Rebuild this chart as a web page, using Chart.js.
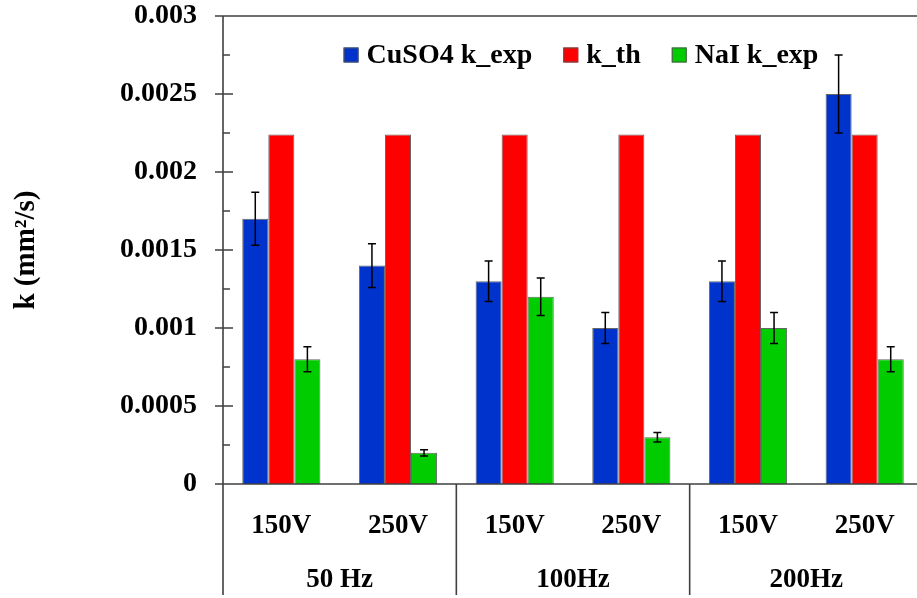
<!DOCTYPE html>
<html>
<head>
<meta charset="utf-8">
<script src="https://cdn.jsdelivr.net/npm/chart.js@4/dist/chart.umd.min.js"></script>
<style>
  html, body { margin: 0; padding: 0; background: #fff; overflow: hidden; }
  #wrap { width: 923px; height: 598px; }
</style>
</head>
<body>
<div id="wrap"><canvas id="myChart" width="923" height="598"></canvas></div>
<script>
// data
const voltages = ["150V", "250V", "150V", "250V", "150V", "250V"];
const groups = ["50 Hz", "100Hz", "200Hz"];
const cuso4Exp = [0.0017, 0.0014, 0.0013, 0.0010, 0.0013, 0.0025];
const cuso4Err = [0.00017, 0.00014, 0.00013, 0.0001, 0.00013, 0.00025];
const kTh = [0.00224, 0.00224, 0.00224, 0.00224, 0.00224, 0.00224];
const naiExp = [0.0008, 0.0002, 0.0012, 0.0003, 0.0010, 0.0008];
const naiErr = [0.00008, 0.00002, 0.00012, 0.00003, 0.0001, 0.00008];
const yTicks = [0, 0.0005, 0.001, 0.0015, 0.002, 0.0025, 0.003];

const FONT = "Liberation Serif, Times New Roman, serif";
const AXIS = "#404040";

Chart.defaults.font.family = FONT;
Chart.defaults.font.weight = "bold";
Chart.defaults.color = "#000";

const extras = {
  id: "extras",
  afterDatasetsDraw(chart) {
    const ctx = chart.ctx;
    const errs = [cuso4Err, null, naiErr];
    ctx.save();
    ctx.strokeStyle = "#000";
    ctx.lineWidth = 1.5;
    chart.data.datasets.forEach((ds, i) => {
      if (!errs[i]) return;
      chart.getDatasetMeta(i).data.forEach((bar, j) => {
        const yTop = chart.scales.y.getPixelForValue(ds.data[j] + errs[i][j]);
        const yBot = chart.scales.y.getPixelForValue(ds.data[j] - errs[i][j]);
        ctx.beginPath();
        ctx.moveTo(bar.x, yTop); ctx.lineTo(bar.x, yBot);
        ctx.moveTo(bar.x - 4, yTop); ctx.lineTo(bar.x + 4, yTop);
        ctx.moveTo(bar.x - 4, yBot); ctx.lineTo(bar.x + 4, yBot);
        ctx.stroke();
      });
    });
    ctx.restore();
  },
  afterDraw(chart) {
    const ctx = chart.ctx;
    const a = chart.chartArea;
    const x = chart.scales.x, y = chart.scales.y;
    ctx.save();
    ctx.strokeStyle = AXIS;
    ctx.lineWidth = 1.6;
    ctx.beginPath();
    // frame
    ctx.moveTo(a.left, a.top); ctx.lineTo(a.left, 595);
    ctx.moveTo(a.left - 8, a.top); ctx.lineTo(chart.width, a.top);
    ctx.moveTo(a.left - 8, a.bottom); ctx.lineTo(chart.width, a.bottom);
    // y ticks
    yTicks.forEach(v => {
      const py = y.getPixelForValue(v);
      ctx.moveTo(a.left - 8, py); ctx.lineTo(a.left + 10, py);
      if (v < 0.003) {
        const pm = y.getPixelForValue(v + 0.00025);
        ctx.moveTo(a.left, pm); ctx.lineTo(a.left + 7, pm);
      }
    });
    // group separators
    for (let g = 1; g < groups.length; g++) {
      const sx = (x.getPixelForValue(g * 2 - 1) + x.getPixelForValue(g * 2)) / 2;
      ctx.moveTo(sx, a.bottom); ctx.lineTo(sx, 595);
    }
    ctx.stroke();

    // group labels
    ctx.fillStyle = "#000";
    ctx.font = "bold 27px " + FONT;
    ctx.textAlign = "center";
    ctx.textBaseline = "middle";
    groups.forEach((g, i) => {
      const cx = (x.getPixelForValue(i * 2) + x.getPixelForValue(i * 2 + 1)) / 2;
      ctx.fillText(g, cx, 580);
    });

    // legend inside plot
    ctx.textAlign = "left";
    ctx.font = "bold 28px " + FONT;
    const items = chart.data.datasets.map(ds => ({ label: ds.label, color: ds.backgroundColor, w: ctx.measureText(ds.label).width }));
    const box = 15, gapText = 8, gapItem = 31;
    let total = 0;
    items.forEach((it, i) => { total += box + gapText + it.w + (i < items.length - 1 ? gapItem : 0); });
    let lx = (a.left + a.right) / 2 + 8 - total / 2;
    const ly = 55;
    items.forEach(it => {
      ctx.fillStyle = it.color;
      ctx.fillRect(lx, ly - box / 2, box, box);
      ctx.strokeStyle = "#555";
      ctx.lineWidth = 1;
      ctx.strokeRect(lx + 0.5, ly - box / 2 + 0.5, box - 1, box - 1);
      ctx.fillStyle = "#000";
      ctx.fillText(it.label, lx + box + gapText, ly + 1);
      lx += box + gapText + it.w + gapItem;
    });
    ctx.restore();
  }
};

const myChartRef = document.getElementById("myChart").getContext("2d");
new Chart(myChartRef, {
  type: "bar",
  data: {
    labels: voltages,
    datasets: [
      { label: "CuSO4 k_exp", data: cuso4Exp, backgroundColor: "#0033CC" },
      { label: "k_th", data: kTh, backgroundColor: "#FF0000" },
      { label: "NaI k_exp", data: naiExp, backgroundColor: "#00CC00" },
    ],
  },
  options: {
    responsive: false,
    animation: false,
    devicePixelRatio: 1,
    layout: { padding: { top: 16, right: 0, bottom: 0, left: 0 } },
    datasets: {
      bar: {
        categoryPercentage: 0.67,
        barPercentage: 1.0,
        borderColor: "#666",
        borderWidth: 1,
      },
    },
    plugins: {
      legend: { display: false },
      tooltip: { enabled: false },
    },
    scales: {
      x: {
        grid: { display: false, drawTicks: false },
        border: { display: false },
        ticks: { font: { size: 27 }, padding: 26, maxRotation: 0, autoSkip: false },
        afterFit: s => { s.height = 114; },
      },
      y: {
        min: 0,
        max: 0.003,
        grid: { display: false, drawTicks: false },
        border: { display: false },
        ticks: {
          stepSize: 0.0005,
          padding: 26,
          font: { size: 28 },
          callback: v => String(+v.toFixed(4)),
        },
        title: {
          display: true,
          text: "k (mm²/s)",
          font: { size: 29 },
          padding: { top: 9, bottom: 0 },
        },
        afterFit: s => { s.width = 223; s.paddingTop = 0; s.paddingBottom = 0; },
      },
    },
  },
  plugins: [extras],
});
</script>
</body>
</html>
